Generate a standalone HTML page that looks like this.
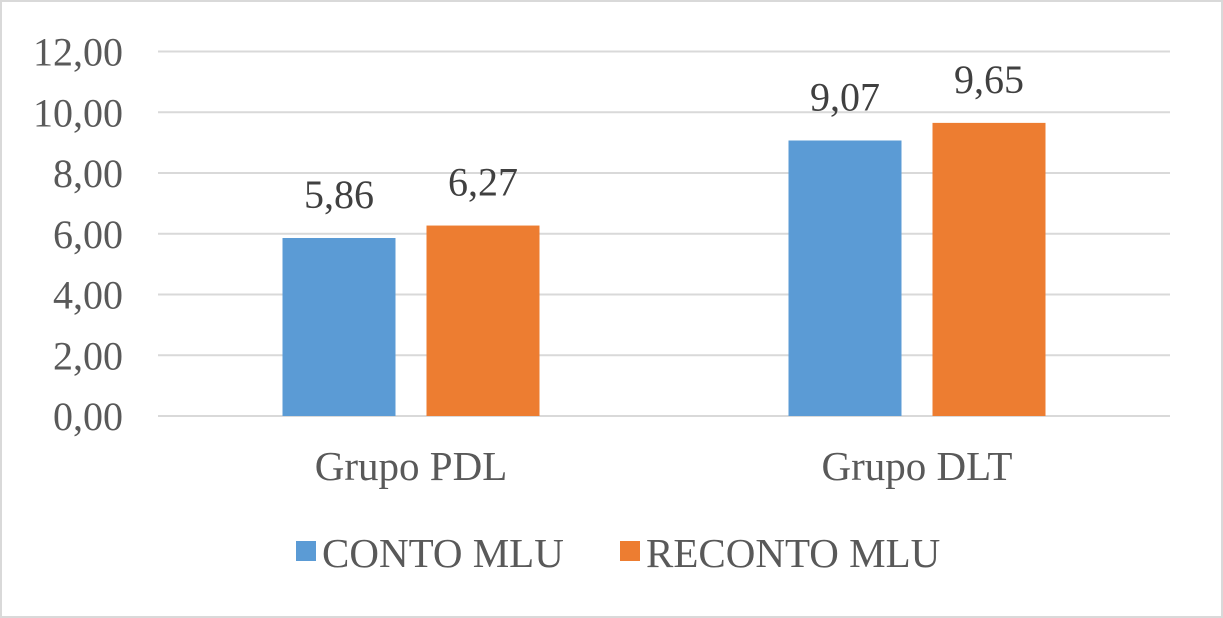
<!DOCTYPE html>
<html><head><meta charset="utf-8"><style>
html,body{margin:0;padding:0;background:#fff}
svg{display:block}
text{font-family:"Liberation Serif",serif;fill:#595959}
</style></head><body>
<svg id="c" width="1223" height="618">
<rect x="1" y="1" width="1221" height="616" fill="#fff" stroke="#d9d9d9" stroke-width="2"/>
<g id="grid"></g><g id="bars"></g><g id="labels"></g>
<g>
<rect x="296" y="541" width="20" height="20" fill="#5b9bd5"/>
<text x="322" y="567" font-size="41">CONTO MLU</text>
<rect x="620" y="541" width="20" height="20" fill="#ed7d31"/>
<text x="646" y="567" font-size="41">RECONTO MLU</text>
</g>
</svg>
<script>
const categories=["Grupo PDL","Grupo DLT"];
const conto=[5.86,9.07];
const reconto=[6.27,9.65];
const ticks=[0,2,4,6,8,10,12];
const ns="http://www.w3.org/2000/svg";
const x0=158,x1=1170,y0=416,y12=51.5;
const y=v=>y0-(v/12)*(y0-y12);
const bw=(x1-x0)/categories.length;
function mk(t,a,p){const e=document.createElementNS(ns,t);for(const k in a)e.setAttribute(k,a[k]);p.appendChild(e);return e;}
const g=document.getElementById('grid'),b=document.getElementById('bars'),l=document.getElementById('labels');
ticks.forEach(t=>{
 const ln=mk('line',{x1:x0,x2:x1,y1:y(t),y2:y(t),stroke:'#d9d9d9','stroke-width':2},g);
 
 
 const tx=mk('text',{x:123,y:y(t)+14,'font-size':40,'text-anchor':'end'},g);
 tx.textContent=t.toFixed(2).replace('.',',');
 
 
});
const barW=113,gap=31;
categories.forEach((c,i)=>{
 const cx=x0+bw*(i+0.5);
 [[conto[i],'#5b9bd5',cx-gap/2-barW,'conto'],[reconto[i],'#ed7d31',cx+gap/2,'reconto']].forEach(([v,col,bx,s])=>{
  const r=mk('rect',{x:bx,y:y(v),width:barW,height:y0-y(v),fill:col},b);
  
  
  const t=mk('text',{x:bx+barW/2,y:y(v)-30,'font-size':40,'text-anchor':'middle',style:'fill:#404040'},l);
  t.textContent=v.toFixed(2).replace('.',',');
  
  
 });
 const ct=mk('text',{x:cx,y:480,'font-size':41,'text-anchor':'middle'},l);
 ct.textContent=c;
 
 
});
</script>
</body></html>
